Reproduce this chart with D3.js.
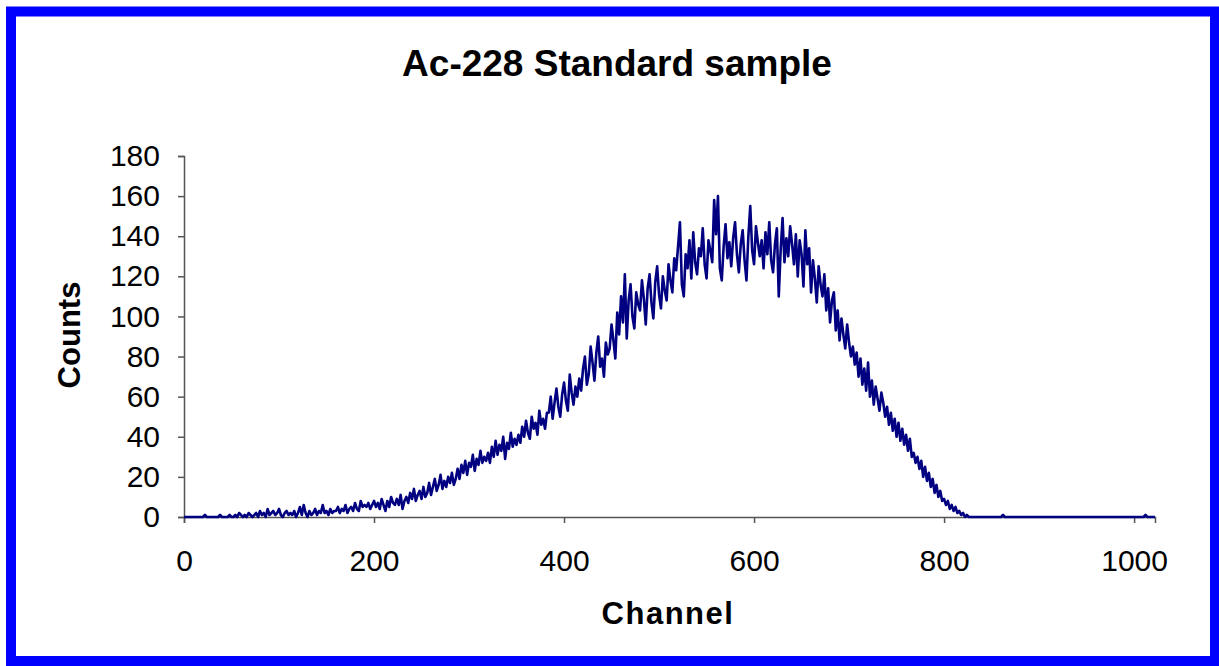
<!DOCTYPE html>
<html>
<head>
<meta charset="utf-8">
<script src="https://cdn.jsdelivr.net/npm/d3@7"></script>
<style>
    body { margin: 0; background: #fff; }
    svg { display: block; font-family: "Liberation Sans", Arial, sans-serif; }
    .axis path, .axis line { stroke: #555; stroke-width: 1.5; }
    .axis text { font-size: 30px; fill: #000; }
</style>
</head>
<body>
<div id="chart"></div>
<script>
(function () {
    'use strict';

    // counts, one value every 2 channels (0, 2, 4 ... 1022)
    var channelStep = 2;
    var counts = [
        0, 0, 0, 0, 0, 0, 0, 0, 0, 0, 0, 1, 0, 0, 0, 0,
        0, 0, 0, 1, 0, 0, 0, 0, 1, 0, 0, 1, 0, 2, 1, 0,
        1, 0, 2, 1, 0, 1, 2, 0, 3, 1, 2, 0, 4, 1, 2, 3,
        1, 2, 4, 1, 0, 2, 3, 1, 2, 1, 3, 0, 2, 5, 1, 6,
        2, 0, 3, 1, 2, 4, 1, 3, 2, 6, 2, 3, 1, 4, 2, 3,
        3, 5, 2, 4, 3, 6, 2, 4, 5, 3, 7, 4, 3, 8, 5, 6,
        5, 7, 4, 6, 8, 5, 7, 4, 9, 6, 3, 8, 5, 10, 7, 6,
        9, 6, 11, 4, 8, 10, 7, 12, 9, 14, 8, 11, 13, 9, 15, 10,
        12, 17, 11, 15, 19, 13, 16, 21, 14, 18, 15, 20, 17, 22, 16, 19,
        24, 19, 26, 22, 28, 21, 27, 25, 31, 23, 29, 26, 33, 27, 30, 28,
        32, 27, 35, 30, 38, 31, 36, 33, 40, 29, 37, 34, 42, 35, 39, 36,
        41, 37, 45, 40, 48, 42, 39, 50, 44, 47, 41, 53, 46, 49, 44, 52,
        52, 60, 49, 57, 64, 55, 50, 61, 67, 58, 53, 71, 62, 56, 65, 60,
        69, 63, 74, 80, 66, 71, 85, 77, 68, 82, 90, 75, 79, 70, 87, 81,
        84, 96, 88, 79, 102, 91, 110, 97, 121, 89, 108, 116, 100, 94, 112, 106,
        103, 118, 109, 96, 114, 121, 107, 99, 117, 125, 111, 104, 120, 113, 108, 126,
        118, 112, 129, 123, 135, 147, 116, 110, 131, 124, 138, 119, 142, 127, 121, 134,
        130, 144, 126, 119, 138, 133, 127, 158, 141, 160, 124, 118, 135, 146, 129, 137,
        125, 139, 147, 131, 122, 136, 143, 128, 118, 140, 155, 133, 126, 145, 137, 130,
        138, 124, 142, 131, 147, 128, 122, 136, 144, 110, 133, 149, 127, 139, 130, 145,
        136, 126, 141, 120, 138, 131, 115, 143, 126, 134, 112, 128, 119, 107, 125, 116,
        110, 121, 103, 114, 97, 108, 112, 93, 103, 88, 99, 91, 84, 96, 87, 80,
        85, 76, 82, 70, 79, 66, 74, 63, 77, 60, 68, 56, 65, 59, 53, 62,
        57, 50, 55, 46, 52, 43, 49, 40, 47, 38, 44, 36, 41, 33, 39, 30,
        32, 27, 30, 24, 28, 20, 25, 18, 22, 15, 19, 12, 16, 10, 13, 8,
        9, 6, 8, 4, 6, 3, 5, 2, 3, 1, 2, 0, 1, 0, 0, 0,
        0, 0, 0, 0, 0, 0, 0, 0, 0, 0, 0, 0, 0, 0, 0, 1,
        0, 0, 0, 0, 0, 0, 0, 0, 0, 0, 0, 0, 0, 0, 0, 0,
        0, 0, 0, 0, 0, 0, 0, 0, 0, 0, 0, 0, 0, 0, 0, 0,
        0, 0, 0, 0, 0, 0, 0, 0, 0, 0, 0, 0, 0, 0, 0, 0,
        0, 0, 0, 0, 0, 0, 0, 0, 0, 0, 0, 0, 0, 0, 0, 0,
        0, 0, 0, 0, 0, 0, 0, 0, 0, 0, 1, 0, 0, 0, 0, 0
    ];
    var xTicks = [0, 200, 400, 600, 800, 1000];
    var yTicks = [0, 20, 40, 60, 80, 100, 120, 140, 160, 180];

    var width = 1219,
        height = 666,
        plot = { left: 184, right: 1155, top: 156, bottom: 517 };

    var svg = d3.select('#chart')
        .append('svg')
        .attr('width', width)
        .attr('height', height);

    // blue frame round the whole chart
    svg.append('rect')
        .attr('x', 11).attr('y', 11.5)
        .attr('width', 1204).attr('height', 649.5)
        .attr('fill', '#fff')
        .attr('stroke', '#0000ff')
        .attr('stroke-width', 10);

    var x = d3.scaleLinear().domain([0, 1022]).range([plot.left, plot.right]);
    var y = d3.scaleLinear().domain([0, 180]).range([plot.bottom, plot.top]);

    svg.append('g')
        .attr('class', 'axis')
        .attr('transform', 'translate(0,' + plot.bottom + ')')
        .call(d3.axisBottom(x).tickValues(xTicks).tickFormat(d3.format('d'))
            .tickSizeOuter(0).tickSize(6).tickPadding(27));

    svg.append('g')
        .attr('class', 'axis')
        .attr('transform', 'translate(' + plot.left + ',0)')
        .call(d3.axisLeft(y).tickValues(yTicks).tickSizeOuter(0).tickSize(6).tickPadding(18));

    var line = d3.line()
        .x(function (d, i) { return x(i * channelStep); })
        .y(function (d) { return y(d); });

    svg.append('path')
        .datum(counts)
        .attr('fill', 'none')
        .attr('stroke', '#000080')
        .attr('stroke-width', 2.6)
        .attr('stroke-linejoin', 'round')
        .attr('d', line);

    svg.append('text')
        .attr('x', 617).attr('y', 76)
        .attr('text-anchor', 'middle')
        .attr('font-size', 37).attr('font-weight', 'bold')
        .text('Ac-228 Standard sample');

    svg.append('text')
        .attr('x', 668).attr('y', 624)
        .attr('text-anchor', 'middle')
        .attr('font-size', 31).attr('font-weight', 'bold')
        .attr('letter-spacing', 1.5)
        .text('Channel');

    svg.append('text')
        .attr('transform', 'translate(80,335) rotate(-90)')
        .attr('text-anchor', 'middle')
        .attr('font-size', 31).attr('font-weight', 'bold')
        .text('Counts');
})();
</script>
</body>
</html>
